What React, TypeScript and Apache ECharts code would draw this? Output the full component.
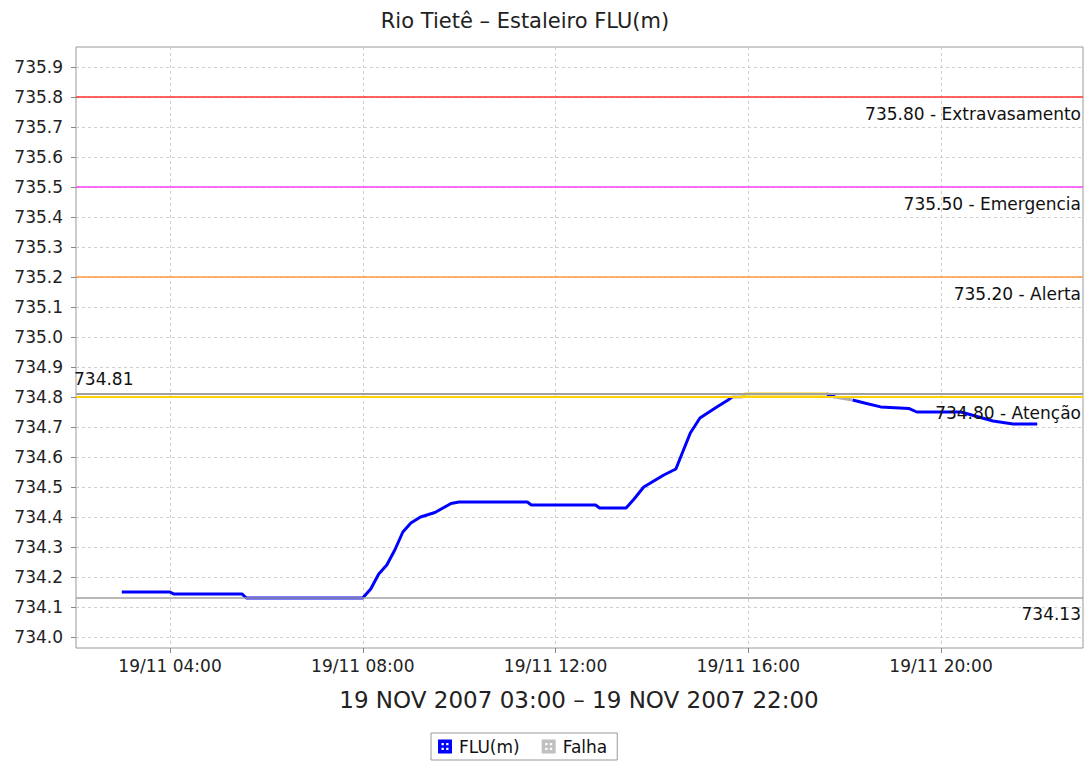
import React, { useEffect, useRef } from "react";
import * as echarts from "echarts";

const FONT = "DejaVu Sans";

const TITLE = "Rio Tietê – Estaleiro FLU(m)";
const X_NAME = "19 NOV 2007 03:00 – 19 NOV 2007 22:00";
const DAY_LABEL = "19/11";

// axis ranges (hours of 19/11, metres)
const X_RANGE = [2.05, 22.95];
const X_TICK_RANGE = [4, 20];
const X_TICK_STEP = 4;
const Y_RANGE = [733.9633, 735.9667];
const Y_TICK_RANGE = [734.0, 735.9];
const Y_TICK_STEP = 0.1;

// FLU(m) readings (blue)
const fluRiseTimes = ["03:00", "04:00", "04:05", "05:30", "05:35", "08:00", "08:10", "08:20", "08:30", "08:40", "08:50", "09:00", "09:12", "09:30", "09:50", "10:00", "11:25", "11:30", "12:50", "12:55", "13:28", "13:38", "13:50", "14:15", "14:30", "14:48", "15:00", "15:20", "15:35", "15:40"];
const fluRiseValues = [734.15, 734.15, 734.143, 734.143, 734.13, 734.13, 734.16, 734.21, 734.24, 734.29, 734.35, 734.38, 734.40, 734.415, 734.445, 734.45, 734.45, 734.44, 734.44, 734.43, 734.43, 734.46, 734.50, 734.54, 734.56, 734.68, 734.73, 734.765, 734.79, 734.80];
const fluPeakTimes = ["17:38", "17:48"];
const fluPeakValues = [734.81, 734.80];
const fluFallTimes = ["18:10", "18:25", "18:45", "19:20", "19:30", "20:25", "20:45", "21:05", "21:30", "22:00"];
const fluFallValues = [734.79, 734.78, 734.767, 734.762, 734.75, 734.75, 734.735, 734.72, 734.71, 734.71];

// Falha (grey)
const falhaATimes = ["15:40", "15:53"];
const falhaAValues = [734.80, 734.80];
const falhaBTimes = ["17:48", "18:10"];
const falhaBValues = [734.80, 734.79];

// above attention level (yellow)
const aboveTimes = ["15:53", "15:56", "17:38"];
const aboveValues = [734.80, 734.81, 734.81];

// reference levels
const levelValues = [735.8, 735.5, 735.2, 734.8];
const levelNames = ["Extravasamento", "Emergencia", "Alerta", "Atenção"];
const levelColors = ["#ff3030", "#ff40ff", "#ff9a40", "#ffd200"];
const maxLevel = 734.81;
const minLevel = 734.13;

const toHours = (t: string) => {
  const [h, m] = t.split(":").map(Number);
  return h + m / 60;
};
const pairs = (times: string[], values: number[]) => times.map((t, i) => [toHours(t), values[i]]);
const joinSegments = (segs: any[][]) => {
  const out: any[] = [];
  segs.forEach((s, i) => {
    if (i > 0) out.push([s[0][0], "-"]);
    out.push(...s);
  });
  return out;
};

const pad = (n: number) => (n < 10 ? "0" : "") + n;

const DOT_ICON = "path://M0 0H12V12H0Z M3 3V5H5V3Z M7 3V5H9V3Z M3 7V9H5V7Z M7 7V9H9V7Z";

export default function App() {
  const ref = useRef<HTMLDivElement>(null);
  useEffect(() => {
    if (!ref.current) return;
    const chart = echarts.init(ref.current, undefined, { renderer: "svg" });
    const fluData = joinSegments([
      pairs(fluRiseTimes, fluRiseValues),
      pairs(fluPeakTimes, fluPeakValues),
      pairs(fluFallTimes, fluFallValues),
    ]);
    const falhaData = joinSegments([pairs(falhaATimes, falhaAValues), pairs(falhaBTimes, falhaBValues)]);
    const aboveData = pairs(aboveTimes, aboveValues);
    const labelStyle = { color: "#111", fontSize: 17, fontFamily: FONT };
    const markData: any[] = levelValues.map((v, i) => ({
      yAxis: v,
      lineStyle: { color: levelColors[i], width: i === 3 ? 2 : 1.5, type: "solid" },
      label: { show: true, position: "insideEndBottom", distance: [2, 8], formatter: `${v.toFixed(2)} - ${levelNames[i]}`, ...labelStyle },
    }));
    markData.push({
      yAxis: maxLevel,
      lineStyle: { color: "#a0a0a0", width: 2, type: "solid" },
      label: { show: true, position: "insideStartTop", distance: [-2, 6], formatter: maxLevel.toFixed(2), ...labelStyle },
    });
    markData.push({
      yAxis: minLevel,
      lineStyle: { color: "#a0a0a0", width: 1.5, type: "solid" },
      label: { show: true, position: "insideEndBottom", distance: [2, 8], formatter: minLevel.toFixed(2), ...labelStyle },
    });

    const gridLine = { color: "#cfcfcf", width: 1, type: [3, 3] };
    chart.setOption({
      animation: false,
      backgroundColor: "#ffffff",
      textStyle: { fontFamily: FONT },
      graphic: [
        { type: "text", x: 525, y: 21, style: { text: TITLE, font: `21px "${FONT}"`, fill: "#222", align: "center", verticalAlign: "middle" } },
        { type: "text", x: 579, y: 700, style: { text: X_NAME, font: `23px "${FONT}"`, fill: "#222", align: "center", verticalAlign: "middle" } },
      ],
      legend: {
        data: [
          { name: "FLU(m)", icon: DOT_ICON },
          { name: "Falha", icon: DOT_ICON },
        ],
        left: 431,
        top: 733,
        itemWidth: 14,
        itemHeight: 14,
        itemGap: 22,
        padding: [5, 10, 5, 7],
        borderColor: "#999",
        borderWidth: 1,
        selectedMode: false,
        textStyle: { fontSize: 17, color: "#111", fontFamily: FONT, padding: [0, 0, 0, 2] },
      },
      grid: [
        { left: 76, right: 5, top: 47, bottom: 114, show: true, borderColor: "#999", borderWidth: 1, backgroundColor: "transparent" },
        { left: 170, right: 147, top: 47, bottom: 114 },
        { left: 76, right: 5, top: 67, bottom: 125 },
      ],
      xAxis: [
        { gridIndex: 0, type: "value", min: X_RANGE[0], max: X_RANGE[1], show: false },
        {
          gridIndex: 1,
          type: "value",
          min: X_TICK_RANGE[0],
          max: X_TICK_RANGE[1],
          interval: X_TICK_STEP,
          axisLine: { show: false, onZero: false },
          axisTick: { show: true, length: 5, lineStyle: { color: "#888" } },
          axisLabel: { formatter: (v: number) => `${DAY_LABEL} ${pad(Math.round(v))}:00`, fontSize: 17, color: "#222", margin: 9, fontFamily: FONT },
          splitLine: { show: true, lineStyle: gridLine },
        },
        { gridIndex: 2, type: "value", min: X_RANGE[0], max: X_RANGE[1], show: false },
      ],
      yAxis: [
        { gridIndex: 0, type: "value", min: Y_RANGE[0], max: Y_RANGE[1], show: false },
        { gridIndex: 1, type: "value", min: 0, max: 1, show: false },
        {
          gridIndex: 2,
          type: "value",
          min: Y_TICK_RANGE[0],
          max: Y_TICK_RANGE[1],
          interval: Y_TICK_STEP,
          axisLine: { show: false, onZero: false },
          axisTick: { show: true, length: 5, lineStyle: { color: "#888" } },
          axisLabel: { formatter: (v: number) => v.toFixed(1), fontSize: 17, color: "#222", margin: 13, fontFamily: FONT },
          splitLine: { show: true, lineStyle: gridLine },
        },
      ],
      series: [
        {
          name: "limites",
          type: "line",
          xAxisIndex: 0,
          yAxisIndex: 0,
          data: [],
          z: 1,
          markLine: { silent: true, symbol: ["none", "none"], data: markData },
        },
        {
          name: "FLU(m)",
          type: "line",
          xAxisIndex: 0,
          yAxisIndex: 0,
          data: fluData,
          showSymbol: false,
          connectNulls: false,
          z: 4,
          lineStyle: { color: "#0000ff", width: 3 },
          itemStyle: { color: "#0000ff" },
        },
        {
          name: "Falha",
          type: "line",
          xAxisIndex: 0,
          yAxisIndex: 0,
          data: falhaData,
          showSymbol: false,
          z: 4,
          lineStyle: { color: "#acacac", width: 3 },
          itemStyle: { color: "#c0c0c0" },
        },
        {
          name: "Atenção",
          type: "line",
          xAxisIndex: 0,
          yAxisIndex: 0,
          data: aboveData,
          showSymbol: false,
          z: 4,
          lineStyle: { color: "#f5d000", width: 3 },
          itemStyle: { color: "#f5d000" },
        },
      ],
    });
    return () => chart.dispose();
  }, []);
  return <div ref={ref} style={{ position: "fixed", left: 0, top: 0, width: 1088, height: 762 }} />;
}
